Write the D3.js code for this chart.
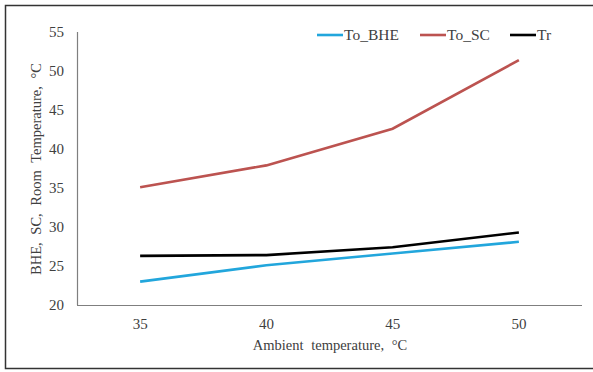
<!DOCTYPE html>
<html>
<head>
<meta charset="utf-8">
<script src="https://cdn.jsdelivr.net/npm/d3@7"></script>
<style>
  body { margin: 0; background: #fff; }
  svg text { font-family: "Liberation Serif", "Times New Roman", serif; fill: #404040; }
</style>
</head>
<body>
<svg id="chart" width="593" height="372"></svg>
<script>
// ambient temperature categories
const ambient = ["35", "40", "45", "50"];
const toBHE = [23.0, 25.1, 26.6, 28.1];
const toSC = [35.1, 37.9, 42.6, 51.4];
const tr = [26.3, 26.4, 27.4, 29.3];
const yTicks = [20, 25, 30, 35, 40, 45, 50, 55];

const series = [
    { name: "To_BHE", values: toBHE, color: "#22A6DC" },
    { name: "To_SC", values: toSC, color: "#BC5350" },
    { name: "Tr", values: tr, color: "#000000" }
];

const svg = d3.select("#chart");

// outer frame
svg.append("rect")
    .attr("x", 5.5).attr("y", 5.5)
    .attr("width", 600).attr("height", 363)
    .attr("fill", "none")
    .attr("stroke", "#333")
    .attr("stroke-width", 1.5);

const margin = { left: 77, right: 582, top: 32, bottom: 305 };

const x = d3.scaleBand()
    .domain(ambient)
    .range([margin.left, margin.right]);

const y = d3.scaleLinear()
    .domain([20, 55])
    .range([margin.bottom, margin.top]);

// axes lines (no tick marks)
svg.append("line")
    .attr("x1", margin.left).attr("x2", margin.right)
    .attr("y1", margin.bottom + 0.5).attr("y2", margin.bottom + 0.5)
    .attr("stroke", "#7f7f7f").attr("stroke-width", 1.2);
svg.append("line")
    .attr("x1", margin.left + 0.5).attr("x2", margin.left + 0.5)
    .attr("y1", margin.top).attr("y2", margin.bottom)
    .attr("stroke", "#7f7f7f").attr("stroke-width", 1.2);

// y tick labels
svg.selectAll(".ytick")
    .data(yTicks)
    .enter()
    .append("text")
    .attr("class", "ytick")
    .attr("x", margin.left - 13)
    .attr("y", d => y(d))
    .attr("dy", "0.35em")
    .attr("text-anchor", "end")
    .style("font-size", "15px")
    .text(d => d);

// x tick labels
svg.selectAll(".xtick")
    .data(ambient)
    .enter()
    .append("text")
    .attr("class", "xtick")
    .attr("x", d => x(d) + x.bandwidth() / 2)
    .attr("y", margin.bottom + 24)
    .attr("text-anchor", "middle")
    .style("font-size", "15px")
    .text(d => d);

// axis titles
svg.append("text")
    .attr("x", 330)
    .attr("y", 350)
    .attr("text-anchor", "middle")
    .style("font-size", "14.5px")
    .style("word-spacing", "4px")
    .text("Ambient temperature, °C");

svg.append("text")
    .attr("transform", "translate(41,169) rotate(-90)")
    .attr("text-anchor", "middle")
    .style("font-size", "14.5px")
    .style("word-spacing", "4px")
    .text("BHE, SC, Room Temperature, °C");

// lines
const line = d3.line()
    .x((d, i) => x(ambient[i]) + x.bandwidth() / 2)
    .y(d => y(d));

svg.selectAll(".series")
    .data(series)
    .enter()
    .append("path")
    .attr("class", "series")
    .attr("d", d => line(d.values))
    .attr("fill", "none")
    .attr("stroke", d => d.color)
    .attr("stroke-width", 2.6);

// legend
const legendX = [317, 420, 510];
const legend = svg.selectAll(".legend")
    .data(series)
    .enter()
    .append("g")
    .attr("class", "legend")
    .attr("transform", (d, i) => `translate(${legendX[i]},35)`);

legend.append("line")
    .attr("x1", 0).attr("x2", 26)
    .attr("stroke", d => d.color)
    .attr("stroke-width", 2.6);

legend.append("text")
    .attr("x", 27)
    .attr("dy", "0.35em")
    .style("font-size", "15.5px")
    .text(d => d.name);
</script>
</body>
</html>
